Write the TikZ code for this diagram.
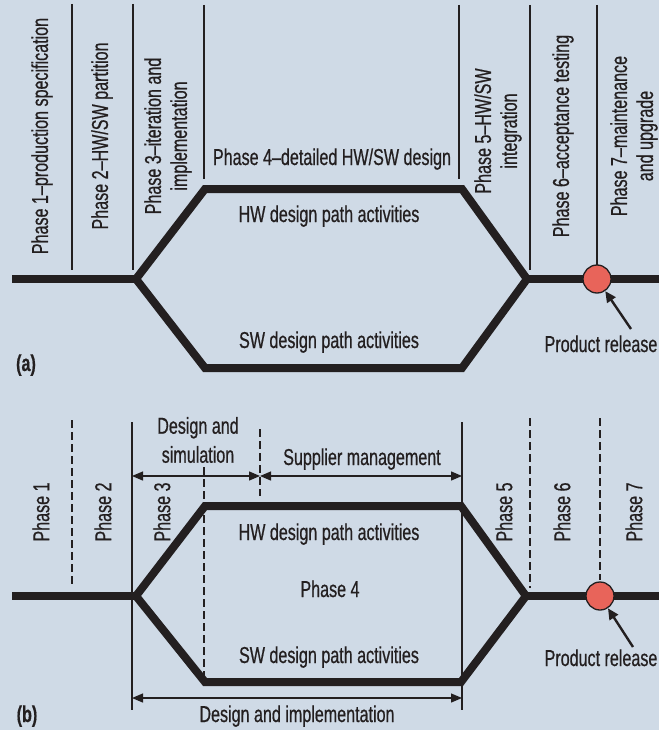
\documentclass[tikz,border=0pt]{standalone}
\usepackage{fontspec}
\setmainfont{Liberation Sans}[FakeStretch=0.7,FakeBold=0.6]
\usetikzlibrary{arrows.meta}
\definecolor{bgblue}{HTML}{CFDAE6}
\definecolor{inkblack}{HTML}{231F20}
\definecolor{dotred}{HTML}{E8645A}

\begin{document}
\begin{tikzpicture}[x=1pt,y=-1pt,
  track/.style={line width=8pt,draw=inkblack,line join=miter},
  divider/.style={line width=1.3pt,draw=inkblack},
  dashdiv/.style={divider,dash pattern=on 8pt off 4pt},
  span/.style={line width=1.3pt,draw=inkblack,{Triangle[length=11pt,width=9pt]}-{Triangle[length=11pt,width=9pt]}},
  lbl/.style={font=\fontsize{23}{26}\selectfont,text=inkblack,inner sep=0pt},
  vlbl/.style={lbl,rotate=90,align=center},
  tag/.style={lbl,font=\fontsize{23}{26}\selectfont\bfseries},
  milestone/.style={circle,draw=inkblack,line width=1.3pt,fill=dotred,minimum size=28pt,inner sep=0pt},
  pointer/.style={line width=2.4pt,draw=inkblack,-{Triangle[length=11pt,width=10pt]}}]

\fill[bgblue] (0,0) rectangle (659,730);
\useasboundingbox (0,0) rectangle (659,730);

\coordinate (a-in) at (12,279);
\coordinate (a-split) at (136,279);
\coordinate (a-hw1) at (205,189);
\coordinate (a-hw2) at (462,189);
\coordinate (a-join) at (527,279);
\coordinate (a-sw2) at (462,368);
\coordinate (a-sw1) at (205,368);
\coordinate (a-out) at (659,279);
\coordinate (a-tail) at (631,329);

\draw[divider] (72,4) -- (72,270);
\draw[divider] (133,4) -- (133,270);
\draw[divider] (204,5) -- (204,179);
\draw[divider] (459,5) -- (459,179);
\draw[divider] (530,5) -- (530,270);
\draw[divider] (597,5) -- (597,266);

\draw[track] (a-in) -- (a-split);
\draw[track] (a-split) -- (a-hw1) -- (a-hw2) -- (a-join) -- (a-sw2) -- (a-sw1) -- cycle;
\draw[track] (a-join) -- (a-out);
\node[milestone] (a-dot) at (597,279) {};
\draw[pointer] (a-tail) -- (a-dot);

\node[vlbl] (a-ph1) at (42,136) {Phase 1--production specification};
\node[vlbl] (a-ph2) at (102,136) {Phase 2--HW/SW partition};
\node[vlbl] (a-ph3) at (168,136) {Phase 3--iteration and\\implementation};
\node[vlbl] (a-ph5) at (498,131) {Phase 5--HW/SW\\integration};
\node[vlbl] (a-ph6) at (563,136) {Phase 6--acceptance testing};
\node[vlbl] (a-ph7) at (634,136) {Phase 7--maintenance\\and upgrade};
\node[lbl,anchor=base] (a-ph4) at (332,165) {Phase 4--detailed HW/SW design};
\node[lbl,anchor=base] (a-hw) at (329,222) {HW design path activities};
\node[lbl,anchor=base] (a-sw) at (329,348) {SW design path activities};
\node[lbl,anchor=base] (a-rel) at (601,352) {Product release};
\node[tag,anchor=base] (a-tag) at (26,371) {(a)};

\coordinate (b-in) at (12,596);
\coordinate (b-split) at (136,596);
\coordinate (b-hw1) at (205,506);
\coordinate (b-hw2) at (461,506);
\coordinate (b-join) at (526,596);
\coordinate (b-sw2) at (461,682);
\coordinate (b-sw1) at (205,682);
\coordinate (b-out) at (659,596);
\coordinate (b-tail) at (633,647);
\coordinate (b-l) at (132,476);
\coordinate (b-m) at (260,476);
\coordinate (b-r) at (462,476);
\coordinate (b-ll) at (132,698);
\coordinate (b-rr) at (462,698);

\draw[dashdiv] (72,420) -- (72,585);
\draw[dashdiv] (204,467) -- (204,678);
\draw[dashdiv] (260,429) -- (260,496);
\draw[dashdiv] (530,418) -- (530,588);
\draw[dashdiv] (600,418) -- (600,580);
\draw[divider] (132,422) -- (132,710);
\draw[divider] (462,422) -- (462,710);

\draw[span] (b-l) -- (b-m);
\draw[span] (b-m) -- (b-r);
\draw[span] (b-ll) -- (b-rr);

\draw[track] (b-in) -- (b-split);
\draw[track] (b-split) -- (b-hw1) -- (b-hw2) -- (b-join) -- (b-sw2) -- (b-sw1) -- cycle;
\draw[track] (b-join) -- (b-out);
\node[milestone] (b-dot) at (600,596) {};
\draw[pointer] (b-tail) -- (b-dot);

\node[vlbl] (b-ph1) at (41,512) {Phase 1};
\node[vlbl] (b-ph2) at (103,512) {Phase 2};
\node[vlbl] (b-ph3) at (162,512) {Phase 3};
\node[vlbl] (b-ph5) at (504,512) {Phase 5};
\node[vlbl] (b-ph6) at (562,512) {Phase 6};
\node[vlbl] (b-ph7) at (634,512) {Phase 7};
\node[lbl,align=center] (b-sim) at (198,440) {Design and\\[3pt]simulation};
\node[lbl,anchor=base] (b-sup) at (362,465) {Supplier management};
\node[lbl,anchor=base] (b-ph4) at (330,597) {Phase 4};
\node[lbl,anchor=base] (b-hw) at (329,540) {HW design path activities};
\node[lbl,anchor=base] (b-sw) at (329,663) {SW design path activities};
\node[lbl,anchor=base] (b-rel) at (601,666) {Product release};
\node[lbl,anchor=base] (b-impl) at (297,722) {Design and implementation};
\node[tag,anchor=base] (b-tag) at (27,722) {(b)};
\end{tikzpicture}
\end{document}
